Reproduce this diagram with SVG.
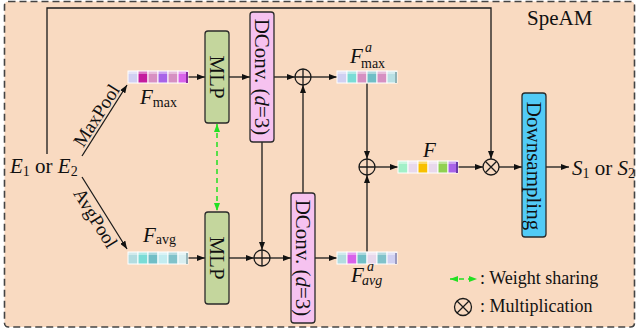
<svg xmlns="http://www.w3.org/2000/svg" width="639" height="334" viewBox="0 0 639 334">
  <defs>
    <marker id="ah" markerWidth="8" markerHeight="6" refX="8" refY="3" orient="auto" markerUnits="userSpaceOnUse">
      <path d="M0,0 L8,3 L0,6 z" fill="#111"/>
    </marker>
    <marker id="ahg" markerWidth="8" markerHeight="6" refX="8" refY="3" orient="auto-start-reverse" markerUnits="userSpaceOnUse">
      <path d="M0,0 L8,3 L0,6 z" fill="#22E022"/>
    </marker>
    <style>
      text { font-family: "Liberation Serif", "Times New Roman", serif; fill: #111; }
      .box { stroke: #2a2a2a; stroke-width: 1.3; }
      .mlp { fill: #C4D69D; }
      .dconv { fill: #F6C2F0; }
      .down { fill: #52CBF6; }
      .wire { fill: none; stroke: #1a1a1a; stroke-width: 1.3; marker-end: url(#ah); }
      .share { fill: none; stroke: #22E022; stroke-width: 1.5; stroke-dasharray: 5 4; marker-start: url(#ahg); marker-end: url(#ahg); }
      .op { fill: none; stroke: #1a1a1a; stroke-width: 1.3; }
      .cell { stroke: #ffffff; stroke-width: 1; }
      .shine { fill: #ffffff; opacity: 0.4; }
      .lbl { font-size: 21px; }
      .sub { font-size: 14px; }
      .it { font-style: italic; }
    </style>
  </defs>

  <!-- module frame -->
  <rect x="4.5" y="1.5" width="630" height="325.5" rx="4" fill="#F9DAC1" stroke="#444" stroke-width="1.6" stroke-dasharray="7 4"/>
  <text x="527" y="25" class="lbl">SpeAM</text>

  <!-- connectors -->
  <g id="connectors">
    <polyline class="wire" points="47,154 47,8 491,8 491,159"/>
    <line class="wire" x1="82" y1="156" x2="127" y2="85"/>
    <line class="wire" x1="82" y1="177" x2="127" y2="249"/>
    <line class="wire" x1="188" y1="77" x2="205" y2="77"/>
    <line class="wire" x1="229" y1="77" x2="250" y2="77"/>
    <line class="wire" x1="274" y1="77" x2="295" y2="77"/>
    <line class="wire" x1="311" y1="77" x2="337" y2="77"/>
    <line class="wire" x1="367" y1="83" x2="367" y2="159"/>
    <line class="wire" x1="303" y1="193" x2="303" y2="85"/>
    <line class="wire" x1="262" y1="142" x2="262" y2="250"/>
    <line class="wire" x1="188" y1="258" x2="205" y2="258"/>
    <line class="wire" x1="229" y1="258" x2="254" y2="258"/>
    <line class="wire" x1="270" y1="258" x2="291" y2="258"/>
    <line class="wire" x1="315" y1="258" x2="337" y2="258"/>
    <line class="wire" x1="367" y1="252" x2="367" y2="175"/>
    <line class="wire" x1="375" y1="167" x2="398" y2="167"/>
    <line class="wire" x1="458" y1="167" x2="483" y2="167"/>
    <line class="wire" x1="499" y1="167" x2="522" y2="167"/>
    <line class="wire" x1="546" y1="167" x2="569" y2="167"/>
    <line class="share" x1="217" y1="124" x2="217" y2="211"/>
  </g>

  <!-- pooling labels -->
  <text class="lbl" font-size="19" style="font-size:19px" text-anchor="middle" transform="translate(104.5,120.5) rotate(-57.6)" y="-3">MaxPool</text>
  <text class="lbl" style="font-size:19px" text-anchor="middle" transform="translate(104.5,212.5) rotate(58.3)" y="17">AvgPool</text>

  <!-- input / output -->
  <g id="input">
    <text x="10" y="173" class="lbl"><tspan class="it">E</tspan><tspan class="sub" dy="3">1</tspan><tspan dy="-3"> or </tspan><tspan class="it">E</tspan><tspan class="sub" dy="3">2</tspan></text>
  </g>
  <g id="output">
    <text x="572" y="175" class="lbl"><tspan class="it">S</tspan><tspan class="sub" dy="3">1</tspan><tspan dy="-3"> or </tspan><tspan class="it">S</tspan><tspan class="sub" dy="3">2</tspan></text>
  </g>

  <!-- F_max -->
  <g id="f-max">
    <rect class="cell" x="128" y="71" width="10" height="12" fill="#D0D0F2"/>
    <rect class="cell" x="138" y="71" width="10" height="12" fill="#C41C9E"/>
    <rect class="cell" x="148" y="71" width="10" height="12" fill="#D890C2"/>
    <rect class="cell" x="158" y="71" width="10" height="12" fill="#A863E8"/>
    <rect class="cell" x="168" y="71" width="10" height="12" fill="#D690C2"/>
    <rect class="cell" x="178" y="71" width="10" height="12" fill="#D862EA"/>
    <rect class="shine" x="128" y="71" width="60" height="3"/>
    <rect x="186" y="72" width="2" height="11" fill="#8a2aa0"/>
    <text x="140" y="104" class="lbl"><tspan class="it">F</tspan><tspan class="sub" dy="3">max</tspan></text>
  </g>

  <!-- F_avg -->
  <g id="f-avg">
    <rect class="cell" x="128" y="252" width="10" height="12" fill="#B2DCE0"/>
    <rect class="cell" x="138" y="252" width="10" height="12" fill="#7ADCD6"/>
    <rect class="cell" x="148" y="252" width="10" height="12" fill="#70BEC6"/>
    <rect class="cell" x="158" y="252" width="10" height="12" fill="#C2ECF0"/>
    <rect class="cell" x="168" y="252" width="10" height="12" fill="#80C2CA"/>
    <rect class="cell" x="178" y="252" width="10" height="12" fill="#D8EEF0"/>
    <rect class="shine" x="128" y="252" width="60" height="3"/>
    <rect x="186" y="253" width="2" height="11" fill="#9ab8bc"/>
    <text x="143" y="242" class="lbl"><tspan class="it">F</tspan><tspan class="sub" dy="2">avg</tspan></text>
  </g>

  <!-- MLP blocks -->
  <g id="mlp-top">
    <rect class="box mlp" x="205" y="31" width="24" height="92" rx="3"/>
    <text class="lbl" text-anchor="middle" transform="translate(217,77) rotate(90)" y="7">MLP</text>
  </g>
  <g id="mlp-bottom">
    <rect class="box mlp" x="205" y="212" width="24" height="92" rx="3"/>
    <text class="lbl" text-anchor="middle" transform="translate(217,258) rotate(90)" y="7">MLP</text>
  </g>

  <!-- dilated convolutions -->
  <g id="dconv-top">
    <rect class="box dconv" x="250" y="12" width="24" height="130" rx="3"/>
    <text class="lbl" text-anchor="middle" transform="translate(262,77) rotate(90)" y="7">DConv. (<tspan class="it">d</tspan>=3)</text>
  </g>
  <g id="dconv-bottom">
    <rect class="box dconv" x="291" y="193" width="24" height="130" rx="3"/>
    <text class="lbl" text-anchor="middle" transform="translate(303,258) rotate(90)" y="7">DConv. (<tspan class="it">d</tspan>=3)</text>
  </g>

  <!-- element-wise sums -->
  <g id="sum-top">
    <circle class="op" cx="303" cy="77" r="8"/>
    <path class="op" d="M295,77 H311 M303,69 V85"/>
  </g>
  <g id="sum-bottom">
    <circle class="op" cx="262" cy="258" r="8"/>
    <path class="op" d="M254,258 H270 M262,250 V266"/>
  </g>
  <g id="sum-mid">
    <circle class="op" cx="367" cy="167" r="8"/>
    <path class="op" d="M359,167 H375 M367,159 V175"/>
  </g>

  <!-- F^a_max -->
  <g id="fa-max">
    <rect class="cell" x="337" y="71" width="10" height="12" fill="#D0D0F2"/>
    <rect class="cell" x="347" y="71" width="10" height="12" fill="#7ADCD6"/>
    <rect class="cell" x="357" y="71" width="10" height="12" fill="#D690C2"/>
    <rect class="cell" x="367" y="71" width="10" height="12" fill="#70BEC6"/>
    <rect class="cell" x="377" y="71" width="10" height="12" fill="#D690C2"/>
    <rect class="cell" x="387" y="71" width="10" height="12" fill="#B8E0E4"/>
    <rect class="shine" x="337" y="71" width="60" height="3"/>
    <rect x="395" y="72" width="2" height="11" fill="#8fb2b6"/>
    <text x="350" y="63" class="lbl it">F</text>
    <text x="365" y="52" class="sub it">a</text>
    <text x="361" y="68" class="sub">max</text>
  </g>

  <!-- F^a_avg -->
  <g id="fa-avg">
    <rect class="cell" x="337" y="252" width="10" height="12" fill="#B2DCE0"/>
    <rect class="cell" x="347" y="252" width="10" height="12" fill="#D862EA"/>
    <rect class="cell" x="357" y="252" width="10" height="12" fill="#70BEC6"/>
    <rect class="cell" x="367" y="252" width="10" height="12" fill="#E8D8EC"/>
    <rect class="cell" x="377" y="252" width="10" height="12" fill="#80C2CA"/>
    <rect class="cell" x="387" y="252" width="10" height="12" fill="#D0D0F2"/>
    <rect class="shine" x="337" y="252" width="60" height="3"/>
    <rect x="395" y="253" width="2" height="11" fill="#9a9ac0"/>
    <text x="351" y="282" class="lbl it">F</text>
    <text x="367" y="271" class="sub it">a</text>
    <text x="362" y="285" class="sub it">avg</text>
  </g>

  <!-- fused descriptor F -->
  <g id="f-fused">
    <rect class="cell" x="398" y="161" width="10" height="12" fill="#A2F0C8"/>
    <rect class="cell" x="408" y="161" width="10" height="12" fill="#E8D8EC"/>
    <rect class="cell" x="418" y="161" width="10" height="12" fill="#F8C000"/>
    <rect class="cell" x="428" y="161" width="10" height="12" fill="#E8D8EC"/>
    <rect class="cell" x="438" y="161" width="10" height="12" fill="#90D050"/>
    <rect class="cell" x="448" y="161" width="10" height="12" fill="#A863E8"/>
    <rect class="shine" x="398" y="161" width="60" height="3"/>
    <rect x="456" y="162" width="2" height="11" fill="#6a3aa8"/>
    <text x="423" y="157" class="lbl it">F</text>
  </g>

  <!-- multiplication -->
  <g id="mul">
    <circle class="op" cx="491" cy="167" r="8"/>
    <path class="op" d="M485.3,161.3 L496.7,172.7 M496.7,161.3 L485.3,172.7"/>
  </g>

  <!-- downsampling -->
  <g id="downsampling">
    <rect class="box down" x="522" y="93" width="24" height="144" rx="3"/>
    <text class="lbl" text-anchor="middle" transform="translate(534,166) rotate(90)" y="7">Downsampling</text>
  </g>

  <!-- legend -->
  <g id="legend">
    <line class="share" x1="450" y1="279" x2="477" y2="279" stroke-dasharray="4 5"/>
    <text x="480" y="284" style="font-size:18px">: Weight sharing</text>
    <circle class="op" cx="463" cy="307" r="8.5"/>
    <path class="op" d="M457,301 L469,313 M469,301 L457,313"/>
    <text x="480" y="312" style="font-size:18px">: Multiplication</text>
  </g>
</svg>
